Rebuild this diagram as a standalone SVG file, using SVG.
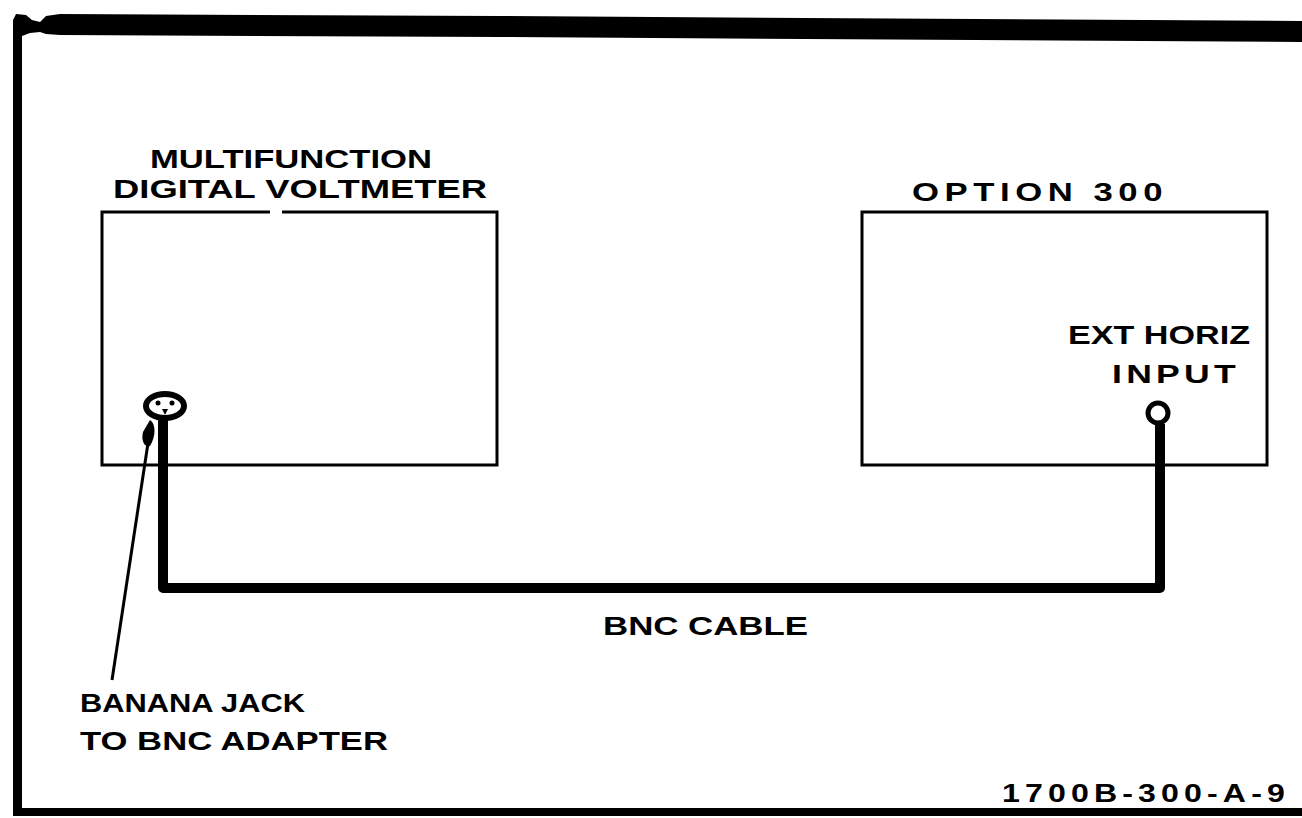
<svg xmlns="http://www.w3.org/2000/svg" width="1302" height="818" viewBox="0 0 1302 818">
<style>
.t{font-family:"Liberation Sans",Arial,sans-serif;font-weight:bold;font-size:25px;fill:#000}
.box{fill:none;stroke:#000;stroke-width:3}
.cable{fill:none;stroke:#000;stroke-width:10;stroke-linejoin:round}
</style>
<rect width="1302" height="818" fill="#fff"/>
<g id="frame">
<polygon points="13,20 16,14 26,15 32,20 40,22 46,16 60,14 500,16 1302,21 1302,42 500,37 60,35 46,34 40,32 30,33 22,36 22,815 13,815" fill="#000"/>
<polygon points="13,808 1302,808 1302,816 13,816" fill="#000"/>
</g>
<g id="connectors">
<path class="cable" d="M163,418 V588 H1160 V424"/>
<line x1="150" y1="430" x2="112" y2="680" stroke="#000" stroke-width="3"/>
<path d="M150,420 C156,424 156,436 150,446 C144,448 141,440 143,432 Z" fill="#000"/>
</g>
<g id="dvm">
<path class="box" d="M270,212 H102 V465 H497 V212 H282"/>
<text class="t" x="150" y="168" textLength="282" lengthAdjust="spacingAndGlyphs">MULTIFUNCTION</text>
<text class="t" x="113" y="198" textLength="374" lengthAdjust="spacingAndGlyphs">DIGITAL  VOLTMETER</text>
<ellipse cx="165" cy="406" rx="19" ry="12" fill="#fff" stroke="#000" stroke-width="6"/>
<circle cx="158" cy="403" r="2.5" fill="#000"/>
<circle cx="172" cy="403" r="2.5" fill="#000"/>
<path d="M162,409 L168,409 L165,415 Z" fill="#000"/>
</g>
<g id="option300">
<rect class="box" x="862" y="212" width="405" height="253"/>
<text class="t" x="912" y="201" textLength="256" lengthAdjust="spacingAndGlyphs" letter-spacing="4">OPTION  300</text>
<text class="t" x="1068" y="344" textLength="182" lengthAdjust="spacingAndGlyphs">EXT HORIZ</text>
<text class="t" x="1112" y="383" textLength="128" lengthAdjust="spacingAndGlyphs" letter-spacing="3">INPUT</text>
<circle cx="1158" cy="413" r="10" fill="#fff" stroke="#000" stroke-width="5"/>
</g>
<g id="labels">
<text class="t" x="603" y="635" textLength="205" lengthAdjust="spacingAndGlyphs">BNC  CABLE</text>
<text class="t" x="80" y="712" textLength="225" lengthAdjust="spacingAndGlyphs">BANANA JACK</text>
<text class="t" x="80" y="750" textLength="308" lengthAdjust="spacingAndGlyphs">TO BNC  ADAPTER</text>
<text class="t" x="1002" y="802" textLength="288" lengthAdjust="spacingAndGlyphs" letter-spacing="4">1700B-300-A-9</text>
</g>
</svg>
